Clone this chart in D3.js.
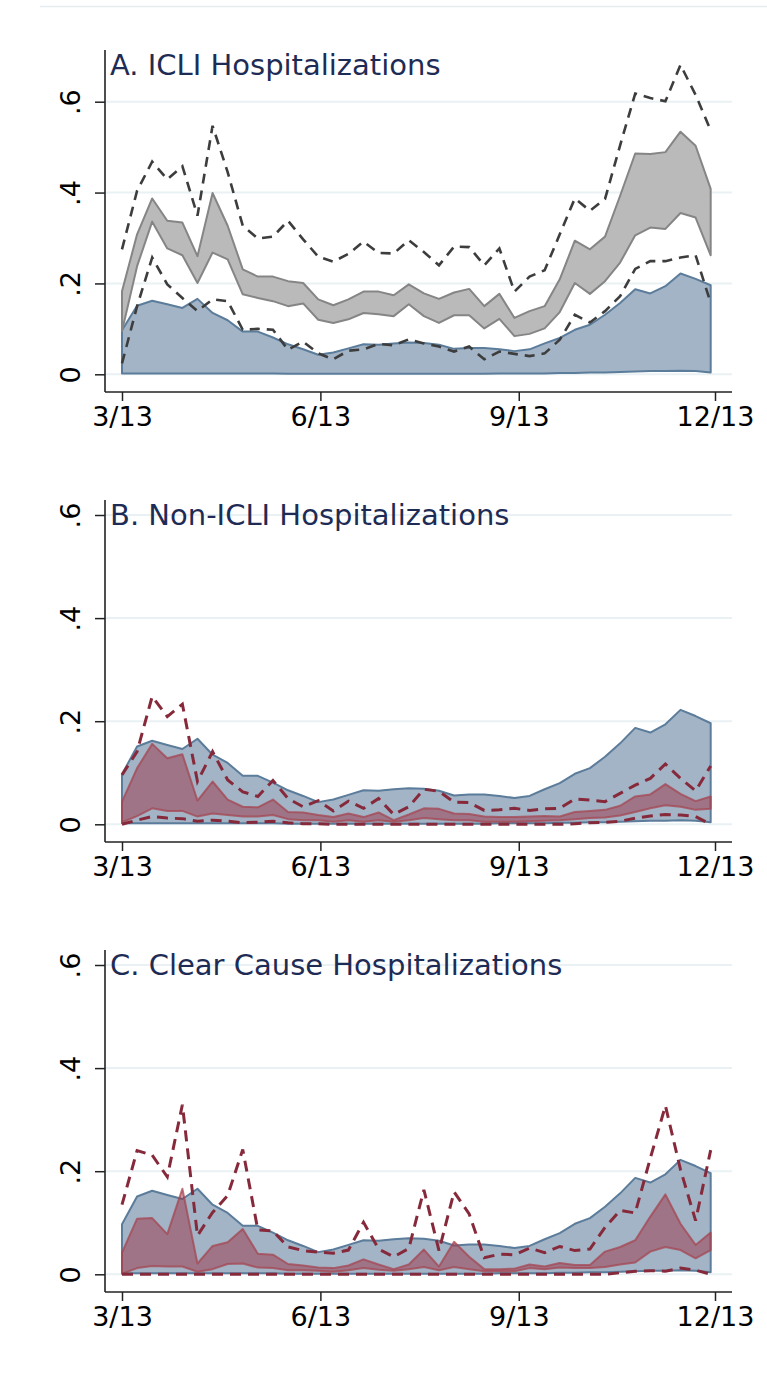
<!DOCTYPE html>
<html lang="en">
<head>
<meta charset="utf-8">
<title>Hospitalizations</title>
<script src="https://cdnjs.cloudflare.com/ajax/libs/d3/7.8.5/d3.min.js"></script>
<style>
  body { margin: 0; background: #fff; }
  svg text { font-family: "DejaVu Sans", sans-serif; }
</style>
</head>
<body>
<div id="chart"></div>
<script>
// weekly points starting 3/13
var start = new Date(2020, 2, 13);
var weeks = d3.range(40).map(function(i) { return d3.timeDay.offset(start, 7 * i); });
var xTicks = [new Date(2020, 2, 13), new Date(2020, 5, 13), new Date(2020, 8, 13), new Date(2020, 11, 13)];
var xTickLabels = ["3/13", "6/13", "9/13", "12/13"];
var yTicks = [0, 0.2, 0.4, 0.6];
var yTickLabels = ["0", ".2", ".4", ".6"];

// reference band (same in every panel)
var blueUpper = [0.097, 0.151, 0.162, 0.154, 0.146, 0.166, 0.135, 0.119, 0.094, 0.094, 0.081, 0.066, 0.055, 0.043, 0.048, 0.057, 0.066, 0.065, 0.068, 0.070,
                 0.069, 0.065, 0.056, 0.058, 0.058, 0.055, 0.051, 0.055, 0.068, 0.080, 0.098, 0.109, 0.131, 0.157, 0.187, 0.178, 0.194, 0.222, 0.210, 0.196];
var blueLower = [0.002, 0.002, 0.002, 0.002, 0.002, 0.002, 0.002, 0.002, 0.002, 0.002, 0.002, 0.001, 0.001, 0.001, 0.001, 0.001, 0.001, 0.001, 0.001, 0.001,
                 0.001, 0.001, 0.001, 0.001, 0.001, 0.002, 0.002, 0.002, 0.002, 0.003, 0.003, 0.004, 0.004, 0.005, 0.006, 0.007, 0.007, 0.008, 0.007, 0.004];

// A. ICLI
var bandUpperA = [0.183, 0.308, 0.387, 0.338, 0.334, 0.260, 0.399, 0.327, 0.231, 0.215, 0.215, 0.205, 0.201, 0.165, 0.152, 0.165, 0.182, 0.182, 0.174, 0.198,
                  0.178, 0.166, 0.180, 0.188, 0.150, 0.177, 0.124, 0.139, 0.150, 0.209, 0.294, 0.275, 0.303, 0.393, 0.486, 0.485, 0.489, 0.534, 0.503, 0.408];
var bandLowerA = [0.095, 0.238, 0.336, 0.277, 0.262, 0.201, 0.268, 0.253, 0.176, 0.168, 0.161, 0.150, 0.156, 0.120, 0.113, 0.121, 0.135, 0.132, 0.128, 0.154,
                  0.128, 0.113, 0.130, 0.130, 0.101, 0.122, 0.084, 0.089, 0.101, 0.137, 0.201, 0.177, 0.205, 0.246, 0.306, 0.323, 0.320, 0.355, 0.345, 0.262];
var dashUpperA = [0.275, 0.404, 0.468, 0.429, 0.458, 0.349, 0.547, 0.445, 0.327, 0.299, 0.303, 0.338, 0.297, 0.259, 0.248, 0.265, 0.292, 0.267, 0.266, 0.295,
                  0.269, 0.240, 0.281, 0.280, 0.240, 0.277, 0.182, 0.215, 0.229, 0.308, 0.387, 0.360, 0.386, 0.504, 0.618, 0.608, 0.601, 0.681, 0.615, 0.537];
var dashLowerA = [0.024, 0.150, 0.257, 0.198, 0.168, 0.139, 0.165, 0.161, 0.098, 0.100, 0.098, 0.054, 0.072, 0.046, 0.033, 0.052, 0.055, 0.067, 0.064, 0.077,
                  0.068, 0.061, 0.050, 0.061, 0.033, 0.050, 0.045, 0.040, 0.046, 0.076, 0.131, 0.114, 0.139, 0.172, 0.232, 0.249, 0.249, 0.257, 0.262, 0.157];

// B. Non-ICLI
var bandUpperB = [0.044, 0.109, 0.156, 0.128, 0.136, 0.046, 0.083, 0.048, 0.034, 0.033, 0.048, 0.024, 0.023, 0.018, 0.014, 0.021, 0.014, 0.023, 0.008, 0.019,
                  0.031, 0.030, 0.021, 0.020, 0.015, 0.014, 0.014, 0.015, 0.016, 0.015, 0.024, 0.026, 0.028, 0.036, 0.054, 0.058, 0.078, 0.059, 0.045, 0.054];
var bandLowerB = [0.004, 0.016, 0.031, 0.026, 0.026, 0.015, 0.021, 0.018, 0.015, 0.015, 0.018, 0.010, 0.008, 0.008, 0.005, 0.008, 0.005, 0.008, 0.005, 0.008,
                  0.012, 0.010, 0.008, 0.008, 0.005, 0.005, 0.005, 0.006, 0.007, 0.008, 0.010, 0.012, 0.013, 0.017, 0.024, 0.031, 0.037, 0.034, 0.028, 0.030];
var dashUpperB = [0.096, 0.141, 0.248, 0.209, 0.233, 0.083, 0.141, 0.086, 0.063, 0.054, 0.085, 0.050, 0.034, 0.046, 0.026, 0.045, 0.031, 0.050, 0.019, 0.034,
                  0.068, 0.064, 0.043, 0.042, 0.027, 0.028, 0.031, 0.027, 0.030, 0.031, 0.049, 0.047, 0.044, 0.060, 0.076, 0.089, 0.117, 0.089, 0.065, 0.113];
var dashLowerB = [0.000, 0.008, 0.015, 0.012, 0.011, 0.006, 0.008, 0.006, 0.003, 0.004, 0.006, 0.003, 0.001, 0.001, 0.000, 0.000, 0.000, 0.000, 0.000, 0.000,
                  0.000, 0.000, 0.000, 0.000, 0.000, 0.000, 0.000, 0.000, 0.000, 0.000, 0.001, 0.003, 0.004, 0.006, 0.012, 0.016, 0.019, 0.018, 0.015, 0.000];

// C. Clear Cause
var bandUpperC = [0.042, 0.108, 0.109, 0.078, 0.166, 0.021, 0.055, 0.062, 0.088, 0.040, 0.038, 0.020, 0.017, 0.013, 0.012, 0.017, 0.029, 0.019, 0.010, 0.019,
                  0.048, 0.015, 0.063, 0.034, 0.010, 0.010, 0.011, 0.019, 0.015, 0.022, 0.018, 0.018, 0.044, 0.053, 0.066, 0.112, 0.155, 0.098, 0.057, 0.081];
var bandLowerC = [0.001, 0.012, 0.016, 0.015, 0.015, 0.005, 0.010, 0.020, 0.021, 0.013, 0.012, 0.008, 0.008, 0.007, 0.005, 0.008, 0.012, 0.009, 0.007, 0.010,
                  0.014, 0.008, 0.014, 0.010, 0.006, 0.006, 0.006, 0.012, 0.010, 0.013, 0.012, 0.012, 0.014, 0.019, 0.023, 0.044, 0.053, 0.047, 0.031, 0.047];
var dashUpperC = [0.135, 0.240, 0.231, 0.189, 0.329, 0.075, 0.120, 0.153, 0.242, 0.086, 0.084, 0.053, 0.046, 0.043, 0.041, 0.047, 0.101, 0.049, 0.034, 0.050,
                  0.164, 0.046, 0.160, 0.117, 0.032, 0.039, 0.038, 0.051, 0.042, 0.054, 0.046, 0.049, 0.091, 0.124, 0.119, 0.225, 0.327, 0.203, 0.104, 0.241];
var dashLowerC = [0.000, 0.000, 0.000, 0.000, 0.000, 0.000, 0.000, 0.000, 0.000, 0.000, 0.000, 0.000, 0.000, 0.000, 0.000, 0.000, 0.000, 0.000, 0.000, 0.000,
                  0.000, 0.000, 0.000, 0.000, 0.000, 0.000, 0.000, 0.000, 0.000, 0.000, 0.000, 0.000, 0.000, 0.003, 0.006, 0.007, 0.006, 0.012, 0.008, 0.000];

var titles = ["A. ICLI Hospitalizations", "B. Non-ICLI Hospitalizations", "C. Clear Cause Hospitalizations"];

var width = 767, height = 1387;
var axisLeftX = 105, axisRightX = 732, plotH = 342;

var panels = [
    {title: titles[0], top: 50, sixAt: 51.7, lower: bandLowerA, upper: bandUpperA, dLower: dashLowerA, dUpper: dashUpperA,
     fill: "#bababa", fillOpacity: 1, stroke: "#858585", dashColor: "#3d3d3d", dashWidth: 2.6, dash: "10,7"},
    {title: titles[1], top: 500, sixAt: 15, lower: bandLowerB, upper: bandUpperB, dLower: dashLowerB, dUpper: dashUpperB,
     fill: "rgb(152,38,55)", fillOpacity: 0.45, stroke: "rgba(165,70,82,0.75)", dashColor: "#862a3b", dashWidth: 3, dash: "11,7"},
    {title: titles[2], top: 950, sixAt: 15, lower: bandLowerC, upper: bandUpperC, dLower: dashLowerC, dUpper: dashUpperC,
     fill: "rgb(152,38,55)", fillOpacity: 0.45, stroke: "rgba(165,70,82,0.75)", dashColor: "#862a3b", dashWidth: 3, dash: "11,7"}
];

var svg = d3.select("#chart").append("svg")
    .attr("width", width)
    .attr("height", height);

svg.append("rect").attr("width", width).attr("height", height).attr("fill", "#fff");

// faint top edge of the graph region
svg.append("line").attr("x1", 40).attr("x2", width).attr("y1", 6.5).attr("y2", 6.5)
    .attr("stroke", "#e6ecee").attr("stroke-width", 1.5);

var x = d3.scaleTime()
    .domain([xTicks[0], xTicks[3]])
    .range([122, 715]);

panels.forEach(function(p) {
    var g = svg.append("g");
    var bottom = p.top + plotH;

    var y = d3.scaleLinear()
        .domain([0, 0.6])
        .range([p.top + 324.3, p.top + p.sixAt]);

    // gridlines
    g.selectAll(".grid")
        .data(yTicks)
        .enter()
        .append("line")
        .attr("x1", axisLeftX)
        .attr("x2", axisRightX)
        .attr("y1", function(d) { return y(d); })
        .attr("y2", function(d) { return y(d); })
        .attr("stroke", "#eaf1f4")
        .attr("stroke-width", 2);

    var area = function(lo, hi) {
        return d3.area()
            .x(function(d, i) { return x(weeks[i]); })
            .y0(function(d, i) { return y(lo[i]); })
            .y1(function(d, i) { return y(hi[i]); })(weeks);
    };
    var line = function(vals) {
        return d3.line()
            .x(function(d, i) { return x(weeks[i]); })
            .y(function(d, i) { return y(vals[i]); })(weeks);
    };

    // reference band
    g.append("path")
        .attr("d", area(blueLower, blueUpper))
        .attr("fill", "#a3b4c6")
        .attr("stroke", "#5b7c9a")
        .attr("stroke-width", 2)
        .attr("stroke-linejoin", "round");

    // panel band
    g.append("path")
        .attr("d", area(p.lower, p.upper))
        .attr("fill", p.fill)
        .attr("fill-opacity", p.fillOpacity)
        .attr("stroke", p.stroke)
        .attr("stroke-width", 2)
        .attr("stroke-linejoin", "round");

    [p.dLower, p.dUpper].forEach(function(vals) {
        g.append("path")
            .attr("d", line(vals))
            .attr("fill", "none")
            .attr("stroke", p.dashColor)
            .attr("stroke-width", p.dashWidth)
            .attr("stroke-dasharray", p.dash);
    });

    // y axis
    var yAxis = g.append("g")
        .attr("transform", "translate(" + axisLeftX + ",0)")
        .call(d3.axisLeft(y).tickValues(yTicks).tickSize(10).tickSizeOuter(0)
            .tickFormat(function(d, i) { return yTickLabels[i]; }));
    yAxis.select(".domain").remove();
    yAxis.selectAll(".tick line").attr("stroke", "#222").attr("stroke-width", 1.5);
    yAxis.selectAll(".tick text")
        .attr("x", 0).attr("y", 0).attr("dy", 0)
        .attr("text-anchor", "middle")
        .attr("transform", "translate(-25,0) rotate(-90)")
        .attr("font-size", 27)
        .attr("font-family", "DejaVu Sans")
        .attr("fill", "#000");

    g.append("line")
        .attr("x1", axisLeftX).attr("x2", axisLeftX)
        .attr("y1", p.top).attr("y2", bottom)
        .attr("stroke", "#222").attr("stroke-width", 1.6);

    // x axis
    var xAxis = g.append("g")
        .attr("transform", "translate(0," + bottom + ")")
        .call(d3.axisBottom(x).tickValues(xTicks).tickSize(9).tickSizeOuter(0)
            .tickFormat(function(d, i) { return xTickLabels[i]; }));
    xAxis.select(".domain").remove();
    xAxis.selectAll(".tick line").attr("stroke", "#222").attr("stroke-width", 1.5);
    xAxis.selectAll(".tick text")
        .attr("y", 34).attr("dy", 0)
        .attr("font-size", 27)
        .attr("font-family", "DejaVu Sans")
        .attr("fill", "#000");

    g.append("line")
        .attr("x1", axisLeftX).attr("x2", axisRightX)
        .attr("y1", bottom).attr("y2", bottom)
        .attr("stroke", "#222").attr("stroke-width", 1.6);

    // panel title
    g.append("text")
        .attr("x", 110)
        .attr("y", p.top + 25)
        .attr("font-size", 29)
        .attr("fill", "#1e2c55")
        .text(p.title);
});
</script>
</body>
</html>
